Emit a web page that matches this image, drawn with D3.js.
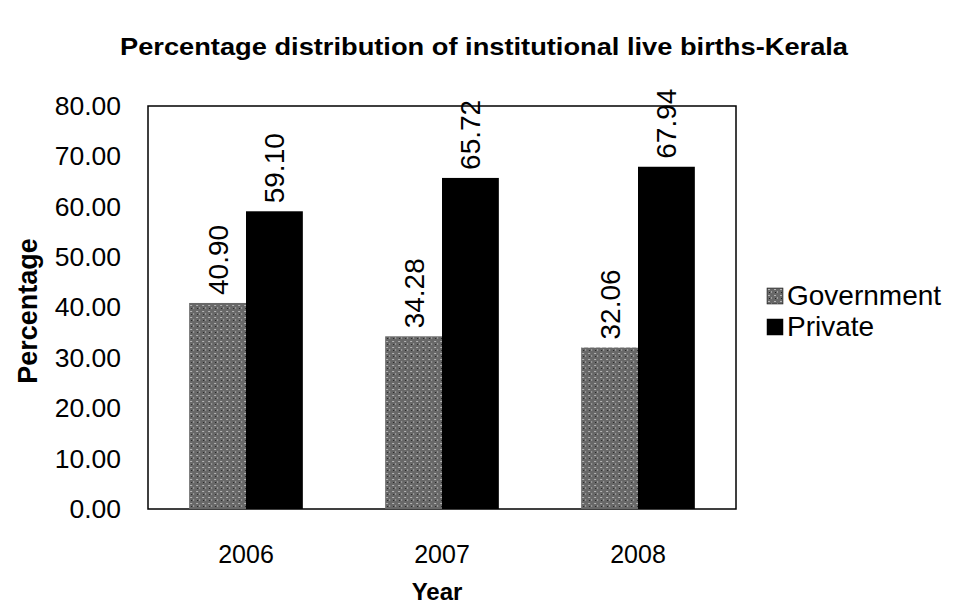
<!DOCTYPE html>
<html>
<head>
<meta charset="utf-8">
<script src="https://cdn.jsdelivr.net/npm/d3@7"></script>
<style>
  body { margin: 0; background: #fff; }
  svg { font-family: "Liberation Sans", Arial, sans-serif; }
</style>
</head>
<body>
<div class="chart"></div>
<script>
// values
const years = ['2006', '2007', '2008'];
const series = ['Government', 'Private'];
const government = [40.90, 34.28, 32.06];
const privateBirths = [59.10, 65.72, 67.94];
const yTicks = [0, 10, 20, 30, 40, 50, 60, 70, 80];

const W = 957, H = 612;
const margin = { top: 106, right: 221, bottom: 103, left: 148 };
const width = W - margin.left - margin.right;
const height = H - margin.top - margin.bottom;

const rows = years.map((y, i) => ({ year: y, Government: government[i], Private: privateBirths[i] }));
const colors = { Government: '#7a7a7a', Private: '#000' };

const svg = d3.select('.chart').append('svg')
  .attr('width', W).attr('height', H);

const g = svg.append('g').attr('transform', `translate(${margin.left},${margin.top})`);

const x0 = d3.scaleBand().domain(years).range([0, width]).paddingInner(0.42).paddingOuter(0.21);
const x1 = d3.scaleBand().domain(series).range([0, x0.bandwidth()]);
const y = d3.scaleLinear().domain([0, 80]).range([height, 0]);

// mottled grey fill for the government bars (scan look)
const defs = svg.append('defs');
const pat = defs.append('pattern').attr('id', 'gov').attr('patternUnits', 'userSpaceOnUse')
  .attr('width', 6).attr('height', 6);
pat.append('rect').attr('width', 6).attr('height', 6).attr('fill', '#686868');
pat.append('rect').attr('x', 1).attr('y', 1).attr('width', 2).attr('height', 1).attr('fill', '#b5b5b5');
pat.append('rect').attr('x', 4).attr('y', 3).attr('width', 1).attr('height', 2).attr('fill', '#a0a0a0');
pat.append('rect').attr('x', 2).attr('y', 4).attr('width', 1).attr('height', 1).attr('fill', '#222');

// plot frame
g.append('rect').attr('width', width).attr('height', height)
  .attr('fill', '#fff').attr('stroke', '#000').attr('stroke-width', 1.5);

const yAxis = d3.axisLeft(y).tickValues(yTicks).tickFormat(d3.format('.2f')).tickSize(0).tickPadding(27);
g.append('g').attr('class', 'axis').call(yAxis)
  .call(a => a.select('.domain').remove())
  .selectAll('text').attr('font-size', 26.5).attr('fill', '#000').style('font-family', 'Liberation Sans, Arial, sans-serif');

const xAxis = d3.axisBottom(x0).tickSize(0).tickPadding(36);
g.append('g').attr('transform', `translate(0,${height})`).call(xAxis)
  .call(a => a.select('.domain').remove())
  .selectAll('text').attr('font-size', 25).attr('fill', '#000').style('font-family', 'Liberation Sans, Arial, sans-serif');

const groups = g.selectAll('.year').data(rows).enter().append('g')
  .attr('transform', d => `translate(${x0(d.year)},0)`);

groups.selectAll('rect').data(d => series.map(k => ({ key: k, value: d[k] }))).enter()
  .append('rect')
  .attr('x', d => x1(d.key))
  .attr('y', d => y(d.value))
  .attr('width', x1.bandwidth())
  .attr('height', d => height - y(d.value))
  .attr('fill', d => d.key === 'Government' ? 'url(#gov)' : colors.Private);

// rotated value labels
groups.selectAll('.lbl').data(d => series.map(k => ({ key: k, value: d[k] }))).enter()
  .append('text')
  .attr('transform', d => `translate(${x1(d.key) + x1.bandwidth() / 2 + 10},${y(d.value) - 8}) rotate(-90)`)
  .attr('font-size', 28)
  .attr('fill', '#000')
  .text(d => d.value.toFixed(2));

// titles
svg.append('text').attr('x', 484).attr('y', 55).attr('text-anchor', 'middle')
  .attr('font-size', 23).attr('font-weight', 'bold')
  .attr('textLength', 728).attr('lengthAdjust', 'spacingAndGlyphs')
  .text('Percentage distribution of institutional live births-Kerala');

svg.append('text').attr('transform', `translate(37,${311}) rotate(-90)`)
  .attr('text-anchor', 'middle').attr('font-size', 27).attr('font-weight', 'bold').text('Percentage');

svg.append('text').attr('x', margin.left + width / 2 - 5).attr('y', 600).attr('text-anchor', 'middle')
  .attr('font-size', 24).attr('font-weight', 'bold').text('Year');

// legend
const legend = svg.append('g').attr('transform', 'translate(767,288)');
series.forEach((s, i) => {
  const row = legend.append('g').attr('transform', `translate(0,${i * 31})`);
  row.append('rect').attr('width', 16).attr('height', 16)
    .attr('fill', s === 'Government' ? 'url(#gov)' : colors.Private).attr('stroke', '#000').attr('stroke-width', 0.5);
  row.append('text').attr('x', 20).attr('y', 17).attr('font-size', 28).text(s);
});
</script>
</body>
</html>
